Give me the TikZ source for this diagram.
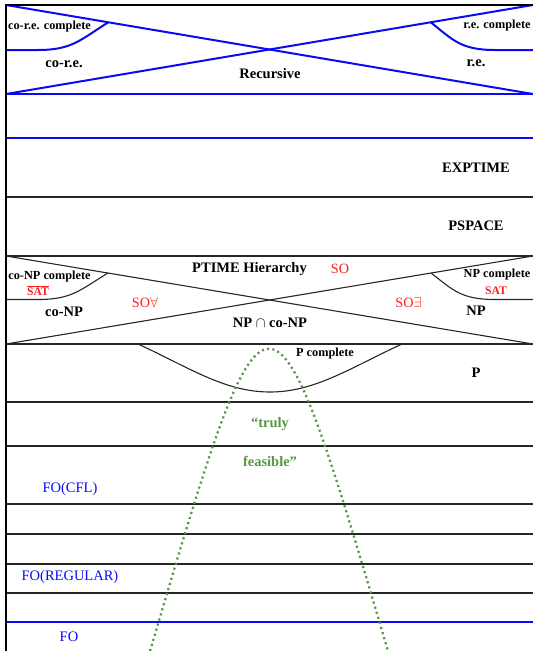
\documentclass[tikz,border=0pt]{standalone}
\usepackage{fontspec}
\setmainfont{Liberation Serif}
\definecolor{lineblue}{RGB}{10,10,245}
\definecolor{labred}{RGB}{250,30,30}
\definecolor{feasgreen}{RGB}{88,150,70}
\begin{document}
\begin{tikzpicture}[x=1pt,y=-1pt,
  blueline/.style={draw=lineblue,line width=2pt},
  thinline/.style={draw=black!85,line width=1.1pt},
  frameline/.style={draw=black,line width=2.4pt},
  big/.style={inner sep=0pt,font=\fontsize{14.5}{16}\selectfont\bfseries},
  small/.style={inner sep=0pt,font=\fontsize{12.3}{14}\selectfont\bfseries},
  redlab/.style={inner sep=0pt,text=labred,font=\fontsize{14.2}{16}\selectfont},
  satlab/.style={inner sep=0pt,text=labred,font=\fontsize{11.6}{13}\selectfont\bfseries},
  folab/.style={inner sep=0pt,text=lineblue,font=\fontsize{14.5}{16}\selectfont},
  greenlab/.style={inner sep=0pt,text=feasgreen,font=\fontsize{14.5}{16}\selectfont\bfseries},
  feasible/.style={draw=feasgreen,line width=2.3pt,dash pattern=on 2.1pt off 3.2pt}]
\useasboundingbox (0,0) rectangle (533,651);
\begin{scope}
\clip (0,0) rectangle (533,651);

% corners of the recursive band
\coordinate (rtl) at (6,5);
\coordinate (rtr) at (533,5);
\coordinate (rbl) at (6,94);
\coordinate (rbr) at (533,94);
\coordinate (rml) at (6,50);
\coordinate (rmr) at (533,50);
\coordinate (rcl) at (108,22.5);
\coordinate (rcr) at (425,22.5);

% corners of the polynomial-time hierarchy band
\coordinate (ptl) at (6,256);
\coordinate (ptr) at (533,256);
\coordinate (pbl) at (6,344);
\coordinate (pbr) at (533,344);
\coordinate (pml) at (6,299.5);
\coordinate (pmr) at (533,299.5);
\coordinate (pcl) at (108,273);
\coordinate (pcr) at (425,273);

% P-complete bowl
\coordinate (pcompl) at (138,344);
\coordinate (pcompb) at (270,392);
\coordinate (pcompr) at (402,344);

% horizontal level lines
\foreach \y/\n in {197/l1,402/l2,446/l3,504/l4,534/l5,564/l6,593/l7}{
  \coordinate (\n a) at (6,\y);
  \coordinate (\n b) at (533,\y);
  \draw[thinline] (\n a) -- (\n b);
}
\coordinate (fol) at (6,622);
\coordinate (for) at (533,622);
\coordinate (eb) at (6,138);
\coordinate (ebr) at (533,138);

% recursive / r.e. / co-r.e. band
\draw[blueline] (rbl) -- (rbr);
\draw[blueline] (eb) -- (ebr);
\draw[blueline] (rtl) -- (rbr);
\draw[blueline] (rbl) -- (rtr);
\draw[blueline] (rml) -- (38,50) .. controls (72,50) and (80,40) .. (rcl);
\draw[blueline] (rmr) -- (495,50) .. controls (461,50) and (453,40) .. (431,22.5);

% polynomial-time hierarchy band
\draw[thinline] (ptl) -- (ptr);
\draw[thinline] (pbl) -- (pbr);
\draw[thinline] (ptl) -- (pbr);
\draw[thinline] (pbl) -- (ptr);
\draw[thinline] (pml) -- (38,299.5) .. controls (72,299.5) and (80,290) .. (pcl);
\draw[thinline] (pmr) -- (495,299.5) .. controls (461,299.5) and (453,290) .. (431,273);

% P-complete region
\draw[thinline] (pcompl) .. controls (190,368) and (225,392) .. (pcompb)
  .. controls (315,392) and (350,368) .. (pcompr);

% first-order band
\draw[blueline] (fol) -- (for);

% the "truly feasible" hump
\coordinate (fgl) at (150,651);
\coordinate (fgr) at (388,651);
\coordinate (fgc) at (269,248);
\draw[feasible] (fgl) .. controls (fgc) and (fgc) .. (fgr);

% frame
\draw[frameline] (6,651) -- (6,5) -- (533,5);
\end{scope}

% labels
\node[small] (corec) at (49.5,27) {co-r.e. complete};
\node[big] (core) at (64,64) {co-r.e.};
\node[big] (rec) at (270,74) {Recursive};
\node[small] (rec2) at (497,26) {r.e. complete};
\node[big] (re) at (476,63) {r.e.};
\node[big] (exptime) at (476,168) {EXPTIME};
\node[big] (pspace) at (476,226) {PSPACE};
\node[big] (ph) at (249.5,269) {PTIME Hierarchy};
\node[redlab] (so) at (340,269) {SO};
\node[small] (conpc) at (49.5,277) {co-NP complete};
\node[satlab] (cosat) at (38,292) {SAT};
\draw[labred,line width=0.7pt] ([yshift=1.4pt]cosat.north west) -- ([yshift=1.4pt]cosat.north east);
\node[big] (conp) at (64,312) {co-NP};
\node[redlab] (soall) at (145,302.5) {SO$\forall$};
\node[big] (npconp) at (270,323) {NP $\cap$ co-NP};
\node[redlab] (soex) at (408.5,302.5) {SO$\exists$};
\node[small] (npc) at (497,275) {NP complete};
\node[satlab] (sat) at (496,291) {SAT};
\node[big] (np) at (476,311) {NP};
\node[small] (pc) at (325,354) {P complete};
\node[big] (p) at (476,373) {P};
\node[greenlab] (truly) at (270,424) {“truly};
\node[greenlab] (feas) at (270,461) {feasible”};
\node[folab] (focfl) at (70,489) {FO(CFL)};
\node[folab] (foreg) at (70,577) {FO(REGULAR)};
\node[folab] (fo) at (69,637) {FO};
\end{tikzpicture}
\end{document}
